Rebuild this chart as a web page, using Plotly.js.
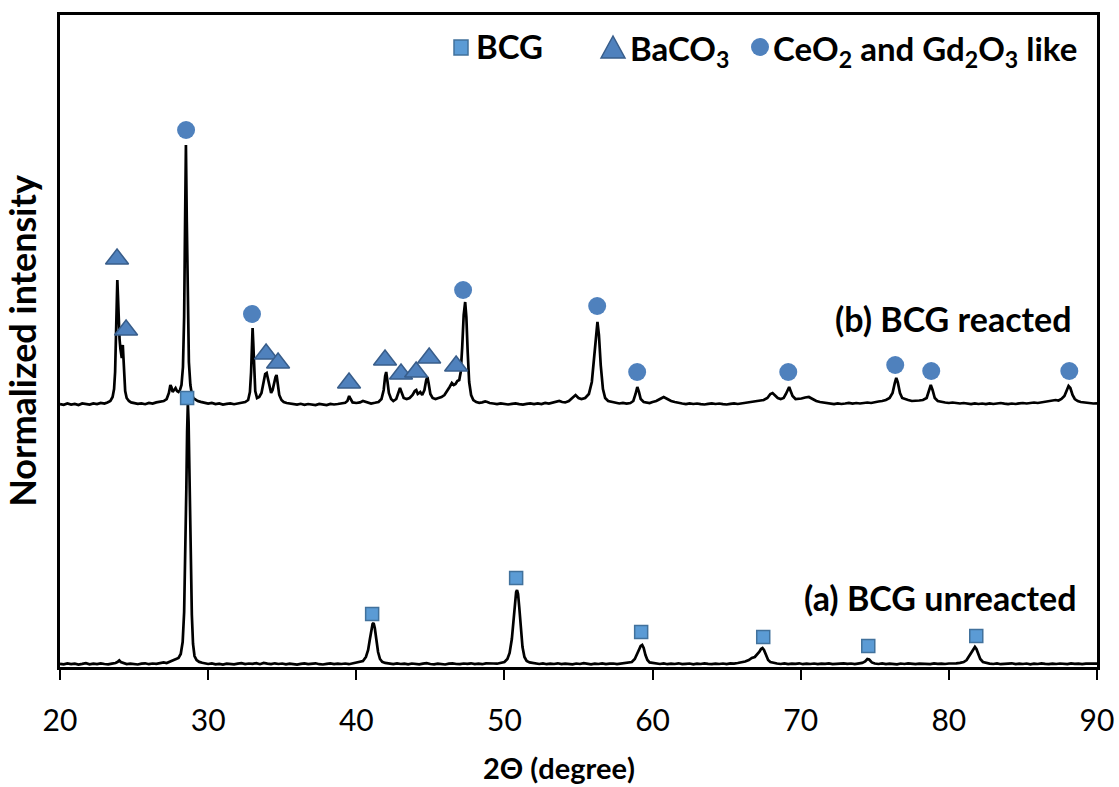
<!DOCTYPE html>
<html>
<head>
<meta charset="utf-8">
<script src="https://cdn.plot.ly/plotly-3.0.1.min.js"></script>
<style>
  html, body { margin: 0; padding: 0; background: #ffffff; }
  #chart { width: 1119px; height: 787px; }
</style>
</head>
<body>
<div id="chart"></div>
<script>
// ---- XRD patterns: 2θ (degree) vs intensity (arbitrary, normalized) ----

// (a) BCG unreacted
const twoThetaA = [
  20.0, 20.25, 20.5, 20.75, 21.0, 21.25, 21.5, 21.75, 22.0, 22.25, 22.5, 22.75, 23.0, 23.25, 23.5, 23.75,
  23.9, 24.0, 24.1, 24.3, 24.5, 24.75, 25.0, 25.25, 25.5, 25.75, 26.0, 26.25, 26.5, 26.75, 27.0, 27.2,
  27.4, 27.6, 27.8, 28.0, 28.15, 28.28, 28.38, 28.46, 28.53, 28.58, 28.63, 28.68, 28.74, 28.82, 28.9, 28.98,
  29.08, 29.22, 29.4, 29.6, 29.8, 30.0, 30.25, 30.5, 30.75, 31.0, 31.25, 31.5, 31.75, 32.0, 32.25, 32.5,
  32.75, 33.0, 33.25, 33.5, 33.75, 34.0, 34.25, 34.5, 34.75, 35.0, 35.25, 35.5, 35.75, 36.0, 36.25, 36.5,
  36.75, 37.0, 37.25, 37.5, 37.75, 38.0, 38.25, 38.5, 38.75, 39.0, 39.25, 39.5, 39.75, 40.0, 40.25, 40.45,
  40.65, 40.8, 40.92, 41.02, 41.1, 41.17, 41.25, 41.35, 41.47, 41.6, 41.75, 41.95, 42.2, 42.5, 42.75, 43.0,
  43.25, 43.5, 43.75, 44.0, 44.25, 44.5, 44.75, 45.0, 45.25, 45.5, 45.75, 46.0, 46.25, 46.5, 46.75, 47.0,
  47.25, 47.5, 47.75, 48.0, 48.25, 48.5, 48.75, 49.0, 49.25, 49.5, 49.75, 50.0, 50.2, 50.35, 50.5, 50.62,
  50.72, 50.79, 50.85, 50.92, 51.0, 51.1, 51.22, 51.35, 51.5, 51.7, 51.9, 52.1, 52.35, 52.6, 52.85, 53.1,
  53.35, 53.6, 53.85, 54.1, 54.35, 54.6, 54.85, 55.1, 55.35, 55.6, 55.85, 56.1, 56.35, 56.6, 56.85, 57.1,
  57.35, 57.6, 57.85, 58.1, 58.35, 58.6, 58.8, 58.95, 59.1, 59.2, 59.3, 59.4, 59.52, 59.65, 59.8, 60.0,
  60.25, 60.5, 60.75, 61.0, 61.25, 61.5, 61.75, 62.0, 62.25, 62.5, 62.75, 63.0, 63.25, 63.5, 63.75, 64.0,
  64.25, 64.5, 64.75, 65.0, 65.25, 65.5, 65.75, 66.0, 66.25, 66.5, 66.7, 66.9, 67.05, 67.2, 67.32, 67.42,
  67.52, 67.65, 67.8, 67.95, 68.15, 68.4, 68.65, 68.9, 69.15, 69.4, 69.65, 69.9, 70.15, 70.4, 70.65, 70.9,
  71.15, 71.4, 71.65, 71.9, 72.15, 72.4, 72.65, 72.9, 73.15, 73.4, 73.65, 73.9, 74.15, 74.35, 74.5, 74.62,
  74.8, 75.0, 75.25, 75.5, 75.75, 76.0, 76.25, 76.5, 76.75, 77.0, 77.25, 77.5, 77.75, 78.0, 78.25, 78.5,
  78.75, 79.0, 79.25, 79.5, 79.75, 80.0, 80.25, 80.5, 80.75, 81.0, 81.2, 81.38, 81.52, 81.65, 81.76, 81.86,
  81.98, 82.12, 82.3, 82.5, 82.75, 83.0, 83.25, 83.5, 83.75, 84.0, 84.25, 84.5, 84.75, 85.0, 85.25, 85.5,
  85.75, 86.0, 86.25, 86.5, 86.75, 87.0, 87.25, 87.5, 87.75, 88.0, 88.25, 88.5, 88.75, 89.0, 89.25, 89.5,
  89.75, 90.0
];
const intensityA = [
  3.2, 2.6, 3.5, 2.9, 3.4, 2.5, 3.1, 3.8, 2.7, 3.3, 2.9, 3.6, 3.0, 2.6, 3.4, 4.0,
  5.2, 6.6, 5.0, 3.6, 2.9, 3.4, 3.1, 2.5, 3.3, 3.7, 2.8, 3.5, 3.2, 4.1, 4.6, 4.0,
  5.3, 6.2, 7.1, 9.0, 13, 25, 55, 110, 180, 235, 264, 245, 190, 110, 52, 23,
  11, 7.0, 5.1, 4.2, 3.5, 3.0, 3.6, 2.7, 3.2, 2.5, 3.4, 3.0, 2.6, 3.3, 3.8, 2.9,
  3.5, 3.1, 3.9, 2.8, 4.1, 3.4, 2.9, 3.7, 3.0, 3.5, 2.7, 3.3, 3.0, 2.4, 3.1, 3.6,
  2.9, 3.2, 3.7, 2.8, 2.5, 3.1, 3.6, 2.9, 3.4, 3.0, 3.5, 2.8, 3.6, 4.1, 4.6, 6.0,
  10, 17, 28, 38, 43, 44, 39, 28, 15, 8.0, 5.2, 4.1, 3.4, 2.9, 3.6, 3.0,
  3.4, 2.7, 3.5, 3.1, 2.6, 3.3, 3.8, 3.0, 2.7, 3.4, 3.1, 2.5, 3.3, 3.6, 3.0, 2.8,
  3.5, 3.1, 3.7, 2.9, 3.3, 2.8, 3.6, 3.2, 3.5, 3.3, 4.0, 5.0, 8.0, 14, 28, 48,
  66, 75, 77, 73, 60, 40, 20, 10, 6.0, 4.6, 4.0, 3.4, 3.0, 3.6, 2.8, 3.3,
  3.0, 3.7, 2.9, 3.4, 3.1, 2.6, 3.5, 3.0, 3.8, 3.2, 2.7, 3.4, 3.0, 3.6, 2.9, 3.3,
  3.5, 2.8, 3.2, 3.6, 4.1, 5.0, 8.0, 13, 18, 21, 22, 19, 12, 7.0, 4.6, 4.0,
  3.4, 3.0, 3.6, 2.8, 3.3, 3.0, 3.7, 2.9, 3.2, 3.5, 2.7, 3.4, 3.0, 3.6, 3.1, 2.8,
  3.4, 3.0, 3.5, 2.9, 3.6, 3.4, 4.0, 4.6, 5.5, 7.0, 9.0, 10, 12, 15, 18, 19,
  17, 12, 7.0, 5.0, 4.0, 3.5, 3.0, 3.6, 2.9, 3.4, 3.1, 3.7, 2.8, 3.3, 3.0, 3.5,
  2.8, 3.4, 3.1, 3.6, 2.9, 3.3, 3.0, 3.7, 3.2, 3.5, 2.9, 3.6, 4.1, 5.5, 8.0, 7.5,
  4.6, 3.5, 3.0, 3.6, 2.9, 3.4, 3.1, 2.7, 3.5, 3.0, 3.6, 3.2, 2.8, 3.4, 3.1, 3.5,
  2.9, 3.6, 3.1, 3.4, 3.0, 3.5, 3.2, 3.6, 4.1, 5.0, 7.0, 11, 15, 18, 20, 18,
  13, 8.0, 5.0, 4.0, 3.4, 3.0, 3.6, 2.8, 3.3, 3.1, 3.7, 2.9, 3.4, 3.0, 3.5, 2.7,
  3.3, 3.0, 3.6, 3.1, 2.8, 3.4, 3.0, 3.5, 3.2, 2.9, 3.6, 3.1, 3.4, 2.8, 3.3, 3.5,
  3.1, 3.4
];

// (b) BCG reacted (drawn on top, shifted up by reactedOffset)
const twoThetaB = [
  20.0, 20.25, 20.5, 20.75, 21.0, 21.25, 21.5, 21.75, 22.0, 22.25, 22.5, 22.75, 23.0, 23.2, 23.4, 23.55,
  23.65, 23.72, 23.78, 23.83, 23.87, 23.91, 23.96, 24.02, 24.08, 24.13, 24.17, 24.2, 24.24, 24.28, 24.33, 24.4,
  24.5, 24.65, 24.8, 25.0, 25.25, 25.5, 25.75, 26.0, 26.25, 26.5, 26.75, 27.0, 27.2, 27.35, 27.45, 27.52,
  27.6, 27.7, 27.8, 27.9, 28.0, 28.1, 28.2, 28.3, 28.38, 28.44, 28.5, 28.56, 28.62, 28.7, 28.8, 28.9,
  29.0, 29.15, 29.3, 29.5, 29.75, 30.0, 30.25, 30.5, 30.75, 31.0, 31.25, 31.5, 31.75, 32.0, 32.25, 32.5,
  32.7, 32.82, 32.9, 32.96, 33.0, 33.04, 33.1, 33.18, 33.3, 33.45, 33.6, 33.75, 33.85, 33.95, 34.05, 34.15,
  34.25, 34.35, 34.45, 34.55, 34.62, 34.7, 34.8, 34.95, 35.1, 35.3, 35.5, 35.75, 36.0, 36.25, 36.5, 36.75,
  37.0, 37.25, 37.5, 37.75, 38.0, 38.25, 38.5, 38.75, 39.0, 39.25, 39.4, 39.52, 39.62, 39.75, 40.0, 40.25,
  40.45, 40.6, 40.8, 41.0, 41.25, 41.5, 41.7, 41.85, 41.95, 42.02, 42.1, 42.2, 42.35, 42.5, 42.7, 42.85,
  42.95, 43.05, 43.2, 43.4, 43.6, 43.8, 43.95, 44.05, 44.15, 44.25, 44.32, 44.45, 44.6, 44.72, 44.8, 44.88,
  45.0, 45.15, 45.35, 45.55, 45.75, 45.95, 46.15, 46.3, 46.45, 46.58, 46.7, 46.82, 46.95, 47.05, 47.15, 47.25,
  47.35, 47.43, 47.52, 47.62, 47.75, 47.9, 48.1, 48.3, 48.5, 48.7, 48.85, 49.0, 49.25, 49.5, 49.75, 50.0,
  50.25, 50.5, 50.75, 51.0, 51.25, 51.5, 51.75, 52.0, 52.25, 52.5, 52.75, 53.0, 53.25, 53.5, 53.7, 53.9,
  54.1, 54.35, 54.6, 54.8, 55.0, 55.2, 55.45, 55.7, 55.9, 56.05, 56.18, 56.28, 56.38, 56.5, 56.65, 56.8,
  57.0, 57.25, 57.5, 57.75, 58.0, 58.25, 58.5, 58.7, 58.85, 58.97, 59.08, 59.2, 59.4, 59.6, 59.8, 60.0,
  60.25, 60.5, 60.75, 61.0, 61.25, 61.5, 61.75, 62.0, 62.25, 62.5, 62.75, 63.0, 63.25, 63.5, 63.75, 64.0,
  64.25, 64.5, 64.75, 65.0, 65.25, 65.5, 65.75, 66.0, 66.25, 66.5, 66.75, 67.0, 67.25, 67.5, 67.75, 67.95,
  68.1, 68.25, 68.45, 68.65, 68.85, 69.0, 69.12, 69.22, 69.32, 69.45, 69.65, 69.85, 70.05, 70.3, 70.55, 70.8,
  71.05, 71.3, 71.55, 71.8, 72.0, 72.25, 72.5, 72.75, 73.0, 73.25, 73.5, 73.75, 74.0, 74.25, 74.5, 74.75,
  75.0, 75.25, 75.5, 75.75, 76.0, 76.2, 76.35, 76.45, 76.55, 76.7, 76.85, 77.0, 77.25, 77.5, 77.75, 78.0,
  78.25, 78.5, 78.65, 78.78, 78.9, 79.05, 79.25, 79.5, 79.75, 80.0, 80.25, 80.5, 80.75, 81.0, 81.25, 81.5,
  81.75, 82.0, 82.25, 82.5, 82.75, 83.0, 83.25, 83.5, 83.75, 84.0, 84.25, 84.5, 84.75, 85.0, 85.25, 85.5,
  85.75, 86.0, 86.25, 86.5, 86.75, 87.0, 87.2, 87.4, 87.6, 87.8, 87.95, 88.08, 88.2, 88.35, 88.5, 88.7,
  88.9, 89.1, 89.3, 89.5, 89.75, 90.0
];
const intensityB = [
  3.0, 2.2, 3.6, 2.5, 3.1, 1.9, 3.5, 2.8, 2.4, 3.6, 2.9, 4.1, 3.4, 4.6, 6.0, 10,
  18, 35, 70, 110, 127, 112, 85, 68, 58, 54, 49, 58, 62, 50, 30, 16,
  9.0, 6.0, 4.6, 4.0, 3.1, 3.6, 2.8, 4.1, 3.4, 4.6, 5.1, 6.0, 8.0, 14, 22, 20,
  15, 17, 19, 16, 15, 17, 22, 40, 90, 180, 262, 185, 95, 45, 22, 13,
  9.0, 7.0, 6.0, 5.1, 4.0, 3.4, 4.1, 2.9, 3.6, 2.5, 3.1, 3.6, 2.8, 3.5, 4.1, 5.0,
  7.0, 15, 35, 65, 79, 66, 38, 16, 9.0, 10, 14, 25, 33, 34, 26, 18,
  14, 17, 24, 30, 32, 24, 12, 7.0, 5.0, 4.0, 3.6, 2.9, 2.4, 3.2, 2.1, 3.0,
  2.6, 1.9, 3.1, 2.4, 2.0, 3.1, 2.5, 3.0, 3.6, 4.2, 6.0, 11, 8.0, 4.6, 4.0, 4.6,
  6.0, 5.5, 4.1, 3.5, 4.2, 5.0, 8.0, 17, 31, 35, 26, 14, 8.0, 6.0, 8.0, 14,
  19, 15, 9.0, 8.0, 9.0, 12, 16, 17, 13, 14, 15, 12, 17, 27, 30, 24,
  13, 9.0, 8.0, 9.0, 10, 12, 16, 20, 24, 22, 23, 26, 27, 35, 60, 92,
  105, 90, 55, 25, 12, 7.0, 5.0, 4.1, 4.6, 5.5, 5.0, 4.0, 3.5, 2.9, 3.6, 3.0,
  2.5, 3.1, 3.6, 2.9, 2.4, 3.1, 3.6, 2.9, 3.6, 3.0, 4.1, 3.5, 4.2, 5.0, 6.0, 5.0,
  4.6, 6.0, 9.0, 12, 9.0, 8.0, 9.0, 13, 25, 50, 75, 85, 72, 42, 18, 9.0,
  6.0, 5.0, 4.1, 3.5, 4.1, 3.4, 4.0, 6.0, 13, 20, 15, 8.0, 5.0, 4.5, 4.0, 5.0,
  6.0, 8.0, 10, 8.0, 6.0, 5.0, 4.0, 3.5, 2.9, 3.6, 3.0, 3.5, 2.8, 2.5, 3.1, 3.6,
  3.0, 3.5, 2.9, 2.5, 3.1, 3.6, 3.0, 3.6, 4.1, 4.6, 5.0, 5.5, 6.0, 7.0, 9.0, 13,
  14, 12, 9.0, 8.0, 9.0, 13, 18, 20, 16, 11, 8.0, 8.0, 8.5, 9.5, 10, 8.0,
  6.0, 5.0, 4.5, 4.0, 3.5, 2.9, 3.6, 3.0, 3.5, 4.1, 3.4, 4.0, 3.5, 4.1, 4.5, 4.0,
  5.0, 5.5, 6.0, 7.0, 9.0, 14, 24, 29, 25, 14, 9.0, 8.0, 7.0, 6.0, 6.0, 6.5,
  7.0, 9.0, 16, 22, 17, 9.0, 6.0, 5.0, 4.5, 4.0, 4.5, 4.0, 3.5, 4.0, 3.4, 2.9,
  3.6, 3.0, 3.5, 2.9, 3.6, 3.0, 3.5, 4.0, 3.4, 2.9, 3.5, 3.0, 3.6, 4.0, 3.5, 4.1,
  4.5, 4.0, 4.6, 5.0, 5.5, 6.0, 7.0, 6.5, 8.0, 11, 17, 21, 19, 12, 8.0, 6.0,
  5.0, 4.5, 4.0, 4.1, 3.5, 3.6
];
const reactedOffset = 260;

// Phase markers (2θ, intensity in the frame of their pattern)
const bcgTwoTheta   = [28.58, 41.07, 50.79, 59.23, 67.47, 74.56, 81.85];
const bcgLevel      = [269, 53, 89, 35, 30, 21, 31];
const baco3TwoTheta = [23.85, 24.46, 33.91, 34.72, 39.51, 41.94, 43.02, 44.04, 44.92, 46.74];
const baco3Level    = [148, 77, 53, 44, 24, 47, 33, 35, 49, 41];
const ceo2TwoTheta  = [28.51, 32.96, 47.21, 56.26, 58.96, 69.16, 76.38, 78.81, 88.13];
const ceo2Level     = [277, 93, 117, 101, 35, 35, 42, 36, 36];

const xTicks = [20, 30, 40, 50, 60, 70, 80, 90];
const legendNames = ['BCG', 'BaCO<sub>3</sub>', 'CeO<sub>2</sub> and Gd<sub>2</sub>O<sub>3</sub> like'];
const patternLabels = ['(a) BCG unreacted', '(b) BCG reacted'];
const xTitle = '2Θ (degree)';
const yTitle = 'Normalized intensity';

// ---- colours ----
const squareFill = '#5B9BD5', squareEdge = '#41719C';
const triFill = '#4F81BD', triEdge = '#385D8A';
const circFill = '#4F81BD';

// ---- figure geometry (px) ----
const W = 1119, H = 787;
const M = { l: 60, r: 22, t: 15, b: 120 };
const plotW = W - M.l - M.r;
const plotH = H - M.t - M.b;
const fx = X => (X - M.l) / plotW;          // page px -> paper x
const fy = Y => (H - M.b - Y) / plotH;      // page px -> paper y
const FONT = 'Lato, "Open Sans", "DejaVu Sans", sans-serif';

const lineStyle = { color: '#000000', width: 2.7 };

const traces = [
  { x: twoThetaA, y: intensityA, type: 'scatter', mode: 'lines', line: lineStyle,
    name: patternLabels[0], showlegend: false, hoverinfo: 'skip' },
  { x: twoThetaB, y: intensityB.map(v => v + reactedOffset), type: 'scatter', mode: 'lines',
    line: lineStyle, name: patternLabels[1], showlegend: false, hoverinfo: 'skip' },
  { x: bcgTwoTheta, y: bcgLevel, type: 'scatter', mode: 'markers', name: legendNames[0],
    showlegend: false,
    marker: { symbol: 'square', size: 13, color: squareFill, line: { color: squareEdge, width: 1.5 } } },
  { x: baco3TwoTheta, y: baco3Level.map(v => v + reactedOffset), type: 'scatter', mode: 'markers',
    name: legendNames[1], showlegend: false,
    marker: { symbol: 'triangle-up', size: 20, color: triFill, line: { color: triEdge, width: 1.5 } } },
  { x: ceo2TwoTheta, y: ceo2Level.map(v => v + reactedOffset), type: 'scatter', mode: 'markers',
    name: legendNames[2], showlegend: false,
    marker: { symbol: 'circle', size: 18, color: circFill, line: { width: 0 } } }
];

// Key drawn in the upper right corner: symbol shapes + text
const keyY = 47;
const shapes = [
  { type: 'rect', xref: 'paper', yref: 'paper',
    x0: fx(454), x1: fx(468), y0: fy(keyY + 8), y1: fy(keyY - 7),
    fillcolor: squareFill, line: { color: squareEdge, width: 1.5 } },
  { type: 'path', xref: 'paper', yref: 'paper',
    path: `M ${fx(601)} ${fy(58)} L ${fx(613)} ${fy(36)} L ${fx(625)} ${fy(58)} Z`,
    fillcolor: triFill, line: { color: triEdge, width: 1.5 } },
  { type: 'circle', xref: 'paper', yref: 'paper',
    x0: fx(751), x1: fx(769), y0: fy(keyY + 9), y1: fy(keyY - 9),
    fillcolor: circFill, line: { width: 0 } }
];

const keyFont = { family: FONT, size: 33, color: '#000', weight: 'bold' };
const labelFont = { family: FONT, size: 34, color: '#000', weight: 'bold' };
const annotations = [
  { text: legendNames[0], x: fx(474), y: fy(keyY - 1), xanchor: 'left', yanchor: 'middle', font: keyFont },
  { text: legendNames[1], x: fx(628), y: fy(keyY + 3), xanchor: 'left', yanchor: 'middle', font: keyFont },
  { text: legendNames[2], x: fx(771), y: fy(keyY + 3), xanchor: 'left', yanchor: 'middle', font: keyFont },
  { text: patternLabels[1], x: fx(1074), y: fy(318), xanchor: 'right', yanchor: 'middle', font: labelFont },
  { text: patternLabels[0], x: fx(1079), y: fy(597), xanchor: 'right', yanchor: 'middle', font: labelFont },
  // x-axis title, centred a little left of the plot centre
  { text: xTitle, x: fx(559), y: fy(768), xanchor: 'center', yanchor: 'middle',
    font: { family: FONT, size: 29, color: '#000', weight: 'bold' } }
].map(a => Object.assign({ xref: 'paper', yref: 'paper', showarrow: false }, a));

const layout = {
  width: W, height: H,
  margin: M,
  paper_bgcolor: '#ffffff', plot_bgcolor: '#ffffff',
  showlegend: false,
  font: { family: FONT, color: '#000000' },
  xaxis: {
    range: [20, 90],
    tickmode: 'array', tickvals: xTicks, ticktext: xTicks.map(String),
    ticks: 'outside', ticklen: 10, tickwidth: 2, tickcolor: '#000',
    ticklabelstandoff: 15,
    tickfont: { family: FONT, size: 30, color: '#000' },
    showline: true, linewidth: 3, linecolor: '#000', mirror: true,
    showgrid: false, zeroline: false
  },
  yaxis: {
    range: [0, plotH],
    showticklabels: false, ticks: '',
    showline: true, linewidth: 3, linecolor: '#000', mirror: true,
    showgrid: false, zeroline: false,
    title: { text: yTitle, font: { family: FONT, size: 36, color: '#000', weight: 'bold' }, standoff: 10 }
  },
  shapes: shapes,
  annotations: annotations
};

Plotly.newPlot('chart', traces, layout, { staticPlot: true, displayModeBar: false });
</script>
</body>
</html>
